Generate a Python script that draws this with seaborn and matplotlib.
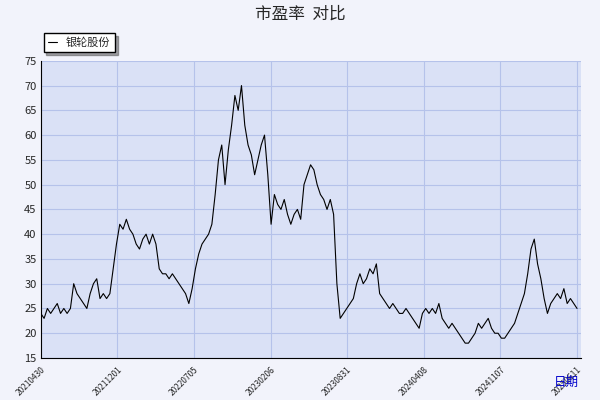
import matplotlib
matplotlib.use("Agg")
import matplotlib.pyplot as plt
import seaborn as sns
import pandas as pd

tick_labels = ["20210430", "20211201", "20220705", "20230206",
               "20230831", "20240408", "20241107", "20250611"]

pe_values = [
    24, 23, 25, 24, 25, 26, 24, 25, 24, 25, 30, 28, 27, 26, 25, 28, 30, 31,
    27, 28, 27, 28, 33, 38, 42, 41, 43, 41, 40, 38, 37, 39, 40, 38,
    40, 38, 33, 32, 32, 31, 32, 31, 30, 29, 28, 26, 29, 33, 36, 38, 39, 40,
    42, 48, 55, 58, 50, 57, 62, 68, 65, 70, 62, 58, 56, 52, 55, 58, 60, 52,
    42, 48, 46, 45, 47, 44, 42, 44, 45, 43, 50, 52, 54, 53, 50, 48, 47, 45, 47, 44,
    30, 23, 24, 25, 26, 27, 30, 32, 30, 31, 33, 32, 34,
    28, 27, 26, 25, 26, 25, 24, 24, 25, 24,
    23, 22, 21, 24, 25, 24, 25, 24, 26, 23,
    22, 21, 22, 21, 20, 19, 18, 18, 19, 20, 22, 21,
    22, 23, 21, 20, 20, 19, 19, 20, 21, 22, 24, 26, 28,
    32, 37, 39, 34, 31, 27, 24,
    26, 27, 28, 27, 29, 26, 27, 26, 25,
]

df = pd.DataFrame({"idx": range(len(pe_values)), "pe": pe_values})

sns.set_style("white")
plt.rcParams["font.family"] = ["Noto Sans CJK SC", "DejaVu Sans"]

fig = plt.figure(figsize=(6, 4), dpi=100, facecolor="#f2f3fb")
ax = fig.add_axes([0.068, 0.105, 0.9, 0.743])
ax.set_facecolor("#dae1f6")

sns.lineplot(data=df, x="idx", y="pe", color="black", linewidth=0.8,
             label="银轮股份", ax=ax)

n = len(pe_values) - 1
ax.set_xlim(0, n * 1.007)
ax.set_ylim(15, 75)
ax.set_yticks(range(15, 76, 5))
ax.set_xticks([n * i / 7 for i in range(8)])
ax.set_xticklabels(tick_labels, rotation=45, ha="right", fontsize=6,
                   rotation_mode="anchor")
ax.tick_params(axis="y", labelsize=8, length=0, pad=3)
ax.tick_params(axis="x", length=3, pad=2)
ax.grid(True, color="#b5c2ea", linewidth=0.8)
for s in ["top", "right"]:
    ax.spines[s].set_visible(False)
for s in ["left", "bottom"]:
    ax.spines[s].set_color("black")
ax.set_xlabel("")
ax.set_ylabel("")
fig.text(0.965, 0.035, "日期", color="#0000cc", fontsize=9, ha="right")
fig.suptitle("市盈率  对比", y=0.985, fontsize=12)

ax.legend(loc="lower left", bbox_to_anchor=(-0.005, 1.01), frameon=True,
          fancybox=False, shadow=True, edgecolor="black", fontsize=8,
          handlelength=0.8, borderpad=0.4)

fig.savefig("out.png", dpi=100, facecolor=fig.get_facecolor())
